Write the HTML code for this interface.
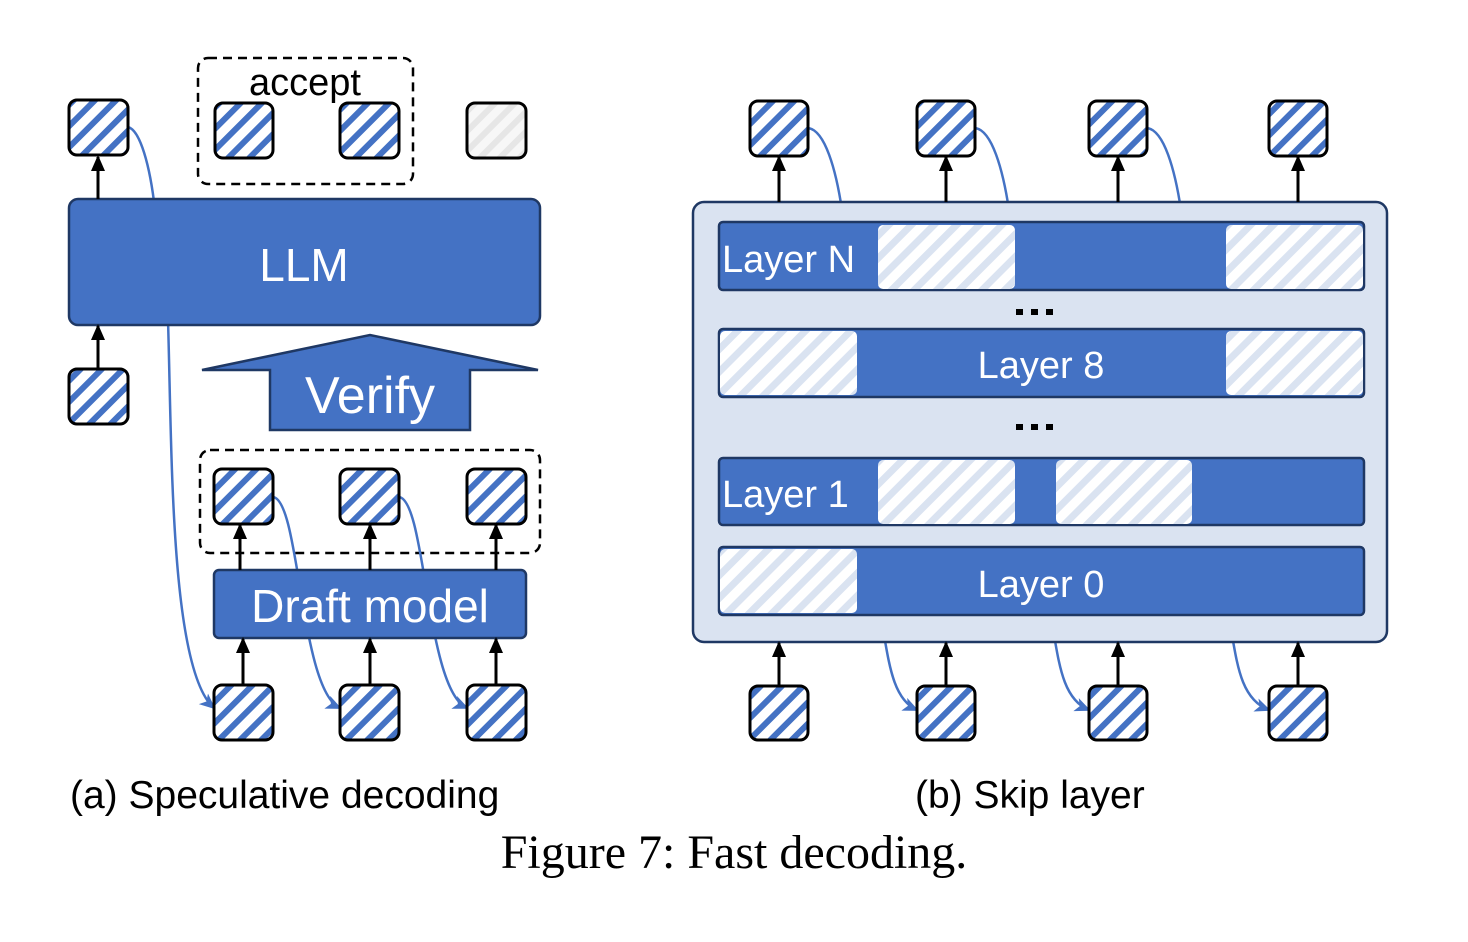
<!DOCTYPE html>
<html><head><meta charset="utf-8"><style>body{margin:0;background:#fff}svg{display:block}</style></head><body>
<svg width="1468" height="942" viewBox="0 0 1468 942" xmlns="http://www.w3.org/2000/svg">
<defs>
<pattern id="st" patternUnits="userSpaceOnUse" width="15" height="15" patternTransform="rotate(45)"><rect width="15" height="15" fill="#fff"/><rect width="6" height="15" fill="#4472C4"/></pattern>
<pattern id="gs" patternUnits="userSpaceOnUse" width="14" height="14" patternTransform="rotate(45)"><rect width="14" height="14" fill="#f7f7f7"/><rect width="6" height="14" fill="#e6e6e6"/></pattern>
<pattern id="ls" patternUnits="userSpaceOnUse" width="16" height="16" patternTransform="rotate(45)"><rect width="16" height="16" fill="#fff"/><rect width="7" height="16" fill="#DAE3F1"/></pattern>
<marker id="ak" markerWidth="16" markerHeight="16" refX="14" refY="8" orient="auto" markerUnits="userSpaceOnUse" viewBox="0 0 16 16"><path d="M0,1L16,8L0,15z" fill="#000"/></marker>
<marker id="ab" markerWidth="16" markerHeight="16" refX="14" refY="8" orient="auto" markerUnits="userSpaceOnUse" viewBox="0 0 16 16"><path d="M0,1L16,8L0,15L4,8z" fill="#4472C4"/></marker>
</defs>
<g font-family="Liberation Sans, sans-serif">
<rect x="198" y="58" width="215" height="126" rx="10" fill="none" stroke="#000" stroke-width="2.5" stroke-dasharray="9,6"/>
<text x="305" y="95" font-size="38" text-anchor="middle">accept</text>
<rect x="200" y="450" width="340" height="103" rx="10" fill="none" stroke="#000" stroke-width="2.5" stroke-dasharray="9,6"/>
<g fill="none" stroke="#4472C4" stroke-width="2.5">
<path d="M128,127 C140,130 150,165 155,210"/>
<path d="M168,320 C172,450 170,670 214,708" marker-end="url(#ab)"/>
<path d="M273,497 C300,500 300,690 340,708" marker-end="url(#ab)"/>
<path d="M399,497 C426,500 426,690 467,708" marker-end="url(#ab)"/>
<path d="M808,128 C825,130 836,170 842,210"/>
<path d="M975,128 C992,130 1003,170 1009,210"/>
<path d="M1147,128 C1164,130 1175,170 1181,210"/>
<path d="M884,635 C890,670 895,700 917,710" marker-end="url(#ab)"/>
<path d="M1054,635 C1060,670 1065,700 1089,710" marker-end="url(#ab)"/>
<path d="M1232,635 C1238,670 1243,700 1269,710" marker-end="url(#ab)"/>
</g>
<rect x="69" y="199" width="471" height="126" rx="9" fill="#4472C4" stroke="#1F3864" stroke-width="2.5"/>
<text x="304" y="281" font-size="46" fill="#fff" text-anchor="middle">LLM</text>
<polygon points="202,370 370,335 538,370 470,370 470,430 270,430 270,370" fill="#4472C4" stroke="#1F3864" stroke-width="2.5"/>
<text x="370" y="413" font-size="52" fill="#fff" text-anchor="middle">Verify</text>
<rect x="214" y="570" width="312" height="68" rx="5" fill="#4472C4" stroke="#1F3864" stroke-width="2.5"/>
<text x="370" y="622" font-size="46" fill="#fff" text-anchor="middle">Draft model</text>
<g stroke="#000" stroke-width="3" marker-end="url(#ak)">
<line x1="98" y1="199" x2="98" y2="157"/><line x1="98" y1="369" x2="98" y2="326"/>
<line x1="240" y1="570" x2="240" y2="525"/><line x1="370" y1="570" x2="370" y2="525"/><line x1="496" y1="570" x2="496" y2="525"/>
<line x1="243" y1="685" x2="243" y2="639"/><line x1="370" y1="685" x2="370" y2="639"/><line x1="496" y1="685" x2="496" y2="639"/>
</g>
<!-- right -->
<rect x="693" y="202" width="694" height="440" rx="11" fill="#DAE3F1" stroke="#1F3864" stroke-width="2.5"/>
<g stroke="#000" stroke-width="3" marker-end="url(#ak)">
<line x1="779" y1="202" x2="779" y2="157"/><line x1="946" y1="202" x2="946" y2="157"/><line x1="1118" y1="202" x2="1118" y2="157"/><line x1="1298" y1="202" x2="1298" y2="157"/>
<line x1="779" y1="686" x2="779" y2="643"/><line x1="946" y1="686" x2="946" y2="643"/><line x1="1118" y1="686" x2="1118" y2="643"/><line x1="1298" y1="686" x2="1298" y2="643"/>
</g>
<g stroke="#000" stroke-width="3" fill="url(#st)">
<rect x="69" y="100" width="59" height="55" rx="8"/><rect x="215" y="103" width="58" height="55" rx="8"/><rect x="340" y="103" width="59" height="55" rx="8"/>
<rect x="69" y="369" width="59" height="55" rx="8"/>
<rect x="214" y="469" width="59" height="55" rx="8"/><rect x="340" y="469" width="59" height="55" rx="8"/><rect x="467" y="469" width="59" height="55" rx="8"/>
<rect x="214" y="685" width="59" height="55" rx="8"/><rect x="340" y="685" width="59" height="55" rx="8"/><rect x="467" y="685" width="59" height="55" rx="8"/>
<rect x="750" y="101" width="58" height="55" rx="8"/><rect x="917" y="101" width="58" height="55" rx="8"/><rect x="1089" y="101" width="58" height="55" rx="8"/><rect x="1269" y="101" width="58" height="55" rx="8"/>
<rect x="750" y="686" width="58" height="54" rx="8"/><rect x="917" y="686" width="58" height="54" rx="8"/><rect x="1089" y="686" width="58" height="54" rx="8"/><rect x="1269" y="686" width="58" height="54" rx="8"/>
</g>
<rect x="467" y="103" width="59" height="55" rx="8" fill="url(#gs)" stroke="#000" stroke-width="3"/>
<g fill="#4472C4" stroke="#1F3864" stroke-width="2.5">
<rect x="719" y="222" width="645" height="68" rx="4"/><rect x="719" y="329" width="645" height="68" rx="4"/>
<rect x="719" y="458" width="645" height="67" rx="4"/><rect x="719" y="547" width="645" height="68" rx="4"/>
</g>
<g fill="url(#ls)">
<rect x="878" y="225" width="137" height="64" rx="5"/><rect x="1226" y="225" width="137" height="64" rx="5"/>
<rect x="720" y="331" width="137" height="64" rx="5"/><rect x="1226" y="331" width="137" height="64" rx="5"/>
<rect x="878" y="460" width="137" height="64" rx="5"/><rect x="1056" y="460" width="136" height="64" rx="5"/>
<rect x="720" y="549" width="137" height="64" rx="5"/>
</g>
<g fill="#fff" font-size="38">
<text x="722" y="272">Layer N</text>
<text x="1041" y="378" text-anchor="middle">Layer 8</text>
<text x="722" y="507">Layer 1</text>
<text x="1041" y="597" text-anchor="middle">Layer 0</text>
</g>
<g fill="#000"><rect x="1016" y="309" width="7" height="6"/><rect x="1031" y="309" width="7" height="6"/><rect x="1046" y="309" width="7" height="6"/>
<rect x="1016" y="424" width="7" height="6"/><rect x="1031" y="424" width="7" height="6"/><rect x="1046" y="424" width="7" height="6"/></g>
<text x="70" y="808" font-size="39">(a) Speculative decoding</text>
<text x="915" y="808" font-size="39">(b) Skip layer</text>
</g>
<text x="734" y="868" font-size="48" font-family="Liberation Serif, serif" text-anchor="middle">Figure 7: Fast decoding.</text>
</svg>
</body></html>
